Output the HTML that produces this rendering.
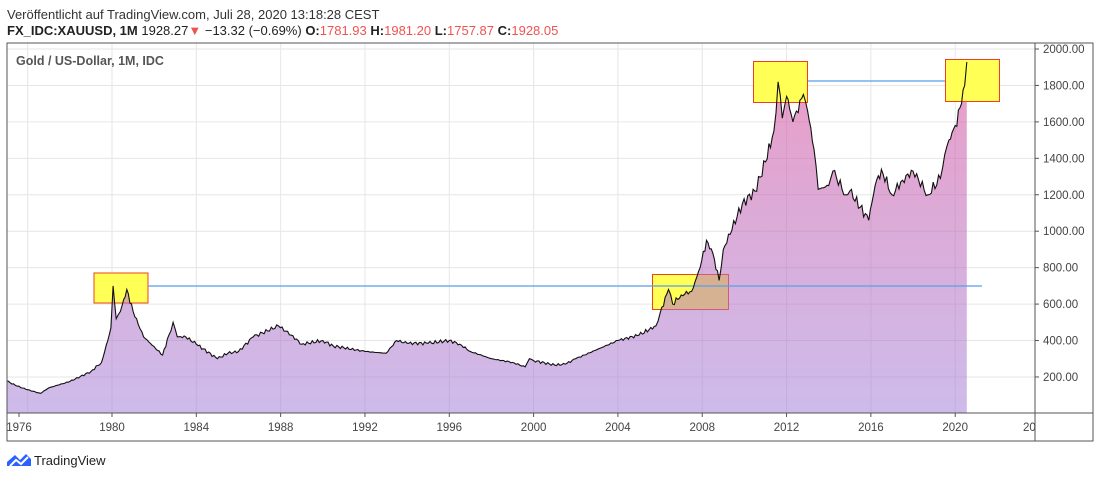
<!DOCTYPE html>
<html><head><meta charset="utf-8"><style>
body{margin:0;background:#fff;width:1100px;height:478px;overflow:hidden;font-family:"Liberation Sans",sans-serif}
</style></head><body>
<svg width="1100" height="478" xmlns="http://www.w3.org/2000/svg" font-family="Liberation Sans, sans-serif">
<defs>
<linearGradient id="fg" gradientUnits="userSpaceOnUse" x1="0" y1="60" x2="0" y2="413">
<stop offset="0" stop-color="rgb(220,90,160)" stop-opacity="0.6"/>
<stop offset="1" stop-color="rgb(160,125,215)" stop-opacity="0.52"/></linearGradient>
<clipPath id="cp"><rect x="7" y="43" width="1028" height="370"/></clipPath></defs>
<text x="7" y="19" font-size="13" fill="#333">Veröffentlicht auf TradingView.com, Juli 28, 2020 13:18:28 CEST</text>
<text x="7" y="35" font-size="13" fill="#222"><tspan font-weight="bold">FX_IDC:XAUUSD, 1M</tspan> 1928.27<tspan fill="#ef5350">▼</tspan> −13.32 (−0.69%) <tspan font-weight="bold">O:</tspan><tspan fill="#ef5350">1781.93</tspan> <tspan font-weight="bold">H:</tspan><tspan fill="#ef5350">1981.20</tspan> <tspan font-weight="bold">L:</tspan><tspan fill="#ef5350">1757.87</tspan> <tspan font-weight="bold">C:</tspan><tspan fill="#ef5350">1928.05</tspan></text>
<g id="grid" stroke="#e6e6e6" stroke-width="1"></g>
<rect x="94" y="273" width="54" height="30" fill="#ffff55" stroke="#f04020"/>
<rect x="652.5" y="274.5" width="76" height="35" fill="#ffff55" stroke="#f04020"/>
<g clip-path="url(#cp)"><path id="area" fill="url(#fg)"/></g>
<line x1="148" y1="286" x2="982" y2="286" stroke="#5aa0e8" stroke-width="1.5" opacity="0.85"/>
<line x1="807" y1="81" x2="968" y2="81" stroke="#5aa0e8" stroke-width="1.5" opacity="0.85"/>
<rect x="753.5" y="61.5" width="54" height="41" fill="#ffff55" stroke="#f04020"/>
<rect x="945.5" y="59.5" width="54" height="42" fill="#ffff55" stroke="#f04020"/>
<g clip-path="url(#cp)"><path id="ln" fill="none" stroke="#111" stroke-width="1.1"/></g>
<rect x="7" y="43" width="1086" height="398" fill="none" stroke="#555"/>
<line x1="1035" y1="43" x2="1035" y2="441" stroke="#555"/>
<line x1="7" y1="413" x2="1093" y2="413" stroke="#555"/>
<g id="lab" font-size="11.5" fill="#444"></g>
<text x="16" y="65" font-size="12.5" fill="#555" font-weight="bold">Gold  / US-Dollar, 1M, IDC</text>
<g transform="translate(7,452)"><path d="M0 10 L8 3 L13 8 L19 2 L24 7 L24 14 L0 14Z" fill="#2962ff"/><path d="M3 14 L9 8 L14 12 L21 5" stroke="#fff" stroke-width="2" fill="none"/></g>
<text x="34" y="465" font-size="13" fill="#222">TradingView</text>
</svg>
<script>
const X=y=>112+(y-1980)*21.08, Y=p=>413.4-p*0.1822;
const g=document.getElementById('grid'),lab=document.getElementById('lab');let s='';let l='';
for(let yr=1976;yr<=2020;yr+=4){const x=X(yr);const lx=yr==1976?19:x;s+=`<line x1="${x}" y1="43" x2="${x}" y2="413"/>`;l+=`<line x1="${lx}" y1="413" x2="${lx}" y2="417" stroke="#555"/><text x="${lx}" y="431" text-anchor="middle">${yr}</text>`;}
l+=`<text x="1023" y="431">20</text>`;
for(let p=200;p<=2000;p+=200){const y=Y(p);s+=`<line x1="7" y1="${y}" x2="1035" y2="${y}"/>`;l+=`<line x1="1035" y1="${y}" x2="1039" y2="${y}" stroke="#555"/><text x="1043" y="${y+4}">${p.toFixed(2)}</text>`;}
g.innerHTML=s;lab.innerHTML=l;
const K=[[1974.5,180],[1975,178],[1975.5,150],[1976,130],[1976.6,110],[1977,140],[1978,175],[1979,230],[1979.5,280],[1979.8,400],[1979.95,470],[1980.05,700],[1980.2,520],[1980.4,560],[1980.7,680],[1981,560],[1981.5,420],[1982.4,320],[1982.7,430],[1982.9,500],[1983.1,420],[1983.5,420],[1984,380],[1985,300],[1985.5,330],[1986,340],[1986.7,420],[1987.9,480],[1988.5,430],[1989,380],[1990,400],[1990.5,370],[1991,360],[1992,340],[1993,330],[1993.5,400],[1994,385],[1995,385],[1996,400],[1996.5,380],[1997,340],[1998,300],[1999,280],[1999.6,255],[1999.8,300],[2000,290],[2001,265],[2001.5,270],[2002,300],[2003,350],[2004,400],[2005,430],[2005.8,480],[2006,550],[2006.4,680],[2006.6,600],[2007,650],[2007.5,670],[2007.9,800],[2008.2,950],[2008.5,880],[2008.8,730],[2009,900],[2009.9,1150],[2010.5,1220],[2011,1380],[2011.4,1550],[2011.6,1820],[2011.8,1620],[2012,1740],[2012.3,1600],[2012.8,1750],[2013,1660],[2013.3,1450],[2013.5,1230],[2014,1250],[2014.2,1330],[2014.8,1200],[2015,1220],[2015.9,1060],[2016.2,1250],[2016.5,1340],[2017,1200],[2017.5,1280],[2018,1330],[2018.7,1200],[2019.3,1290],[2019.5,1420],[2019.7,1500],[2020,1580],[2020.3,1700],[2020.45,1800],[2020.55,1928]];
let pts=[];for(let i=0;i<K.length-1;i++){const[a,pa]=K[i],[b,pb]=K[i+1];const n=Math.max(1,Math.round((b-a)*12));for(let k=0;k<n;k++){const t=k/n,yr=a+(b-a)*t;let p=pa+(pb-pa)*t;if(k>0)p*=1+0.025*Math.sin(yr*37.1)*Math.cos(yr*11.3);pts.push([X(yr),Y(p)]);}}
pts.push([X(2020.55),Y(1928)]);
const d=pts.map((q,i)=>(i?'L':'M')+q[0].toFixed(1)+' '+q[1].toFixed(1)).join('');
document.getElementById('ln').setAttribute('d',d);
document.getElementById('area').setAttribute('d',d+`L${X(2020.55).toFixed(1)} 413L${pts[0][0].toFixed(1)} 413Z`);
</script>
</body></html>
